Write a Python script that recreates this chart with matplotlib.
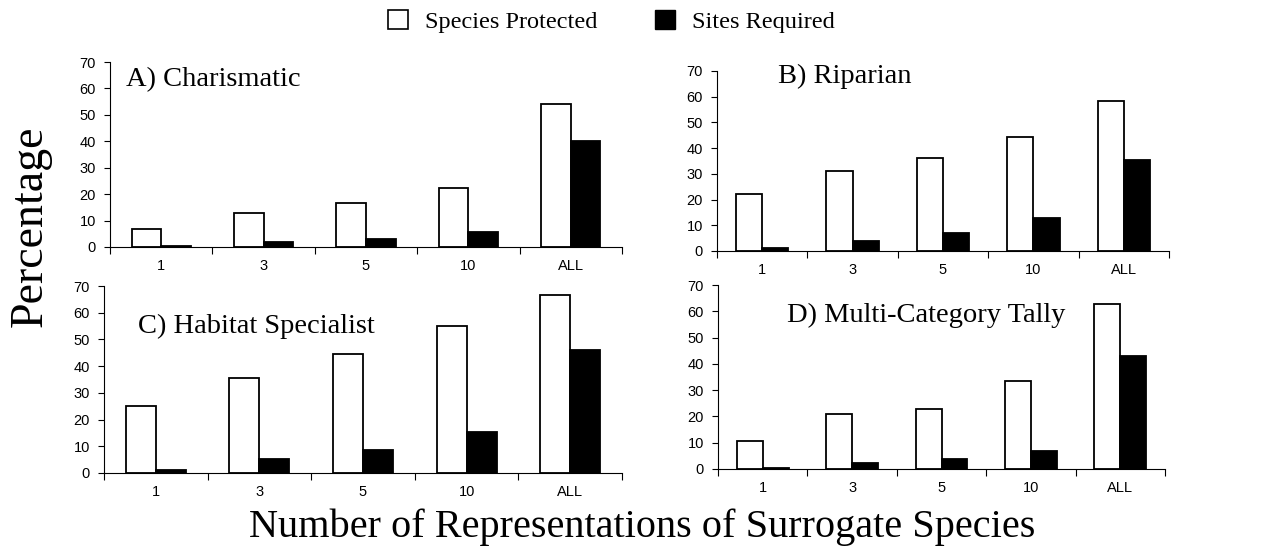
import matplotlib
matplotlib.use("Agg")
import matplotlib.pyplot as plt
from matplotlib.patches import Patch
import numpy as np

# dane (procenty)
categories = ["1", "3", "5", "10", "ALL"]
panel_titles = ["A) Charismatic", "B) Riparian", "C) Habitat Specialist", "D) Multi-Category Tally"]

species_A = [7.0, 12.8, 16.5, 22.2, 54.0]
sites_A = [0.5, 1.9, 3.2, 5.6, 40.2]
species_B = [22.0, 31.0, 36.3, 44.5, 58.2]
sites_B = [1.0, 3.7, 7.0, 12.7, 35.2]
species_C = [25.0, 35.7, 44.7, 55.0, 66.7]
sites_C = [1.3, 5.1, 8.7, 15.5, 46.0]
species_D = [10.6, 20.8, 22.9, 33.6, 62.6]
sites_D = [0.5, 2.2, 3.9, 6.9, 43.0]

yticks = [0, 10, 20, 30, 40, 50, 60, 70]

W, H = 1263, 548
SERIF = "Liberation Serif"
SANS = "Liberation Sans"

# pozycje osi w pikselach: lewo, prawo, gora (70), dol (0)
boxes = [(110, 622, 62, 247), (717, 1169, 71, 251),
         (104, 622, 286, 473), (718, 1165, 285, 469)]
# pozycje tytulow paneli w danych
title_pos = [(-0.34, 63.5), (0.17, 68.0), (-0.17, 55.0), (0.27, 58.5)]

fig = plt.figure(figsize=(W / 100, H / 100), dpi=100)

series = [(species_A, sites_A), (species_B, sites_B),
          (species_C, sites_C), (species_D, sites_D)]

x = np.arange(len(categories))
bw = 0.29
for i, (sp, si) in enumerate(series):
    l, r, t, b = boxes[i]
    ax = fig.add_axes([l / W, 1 - b / H, (r - l) / W, (b - t) / H])
    ax.bar(x - bw / 2, sp, width=bw, color="white", edgecolor="black", linewidth=1.3)
    ax.bar(x + bw / 2, si, width=bw, color="black", edgecolor="black", linewidth=1.3)
    ax.set_xlim(-0.5, len(categories) - 0.5)
    ax.set_ylim(0, 70)
    ax.set_yticks(yticks)
    ax.set_yticklabels([str(v) for v in yticks], fontfamily=SANS, fontsize=10.5)
    ax.set_xticks(x)
    ax.set_xticklabels(categories, fontfamily=SANS, fontsize=10.5)
    ax.tick_params(axis="x", which="major", length=0, pad=9)
    ax.set_xticks(np.arange(len(categories) + 1) - 0.5, minor=True)
    ax.tick_params(axis="x", which="minor", length=5, width=0.8, direction="out")
    ax.tick_params(axis="y", length=4, width=0.8, direction="out", pad=6)
    ax.spines["top"].set_visible(False)
    ax.spines["right"].set_visible(False)
    ax.spines["left"].set_linewidth(0.8)
    ax.spines["bottom"].set_linewidth(0.8)
    tx, ty = title_pos[i]
    ax.text(tx, ty, panel_titles[i], fontfamily=SERIF, fontsize=20.5,
            ha="left", va="center")

handles = [Patch(facecolor="white", edgecolor="black", linewidth=1.2),
           Patch(facecolor="black", edgecolor="black")]
fig.legend(handles, ["Species Protected", "Sites Required"], loc="upper center",
           bbox_to_anchor=(0.484, 1.021), ncol=2, frameon=False,
           prop={"family": SERIF, "size": 17.5}, handlelength=0.8, handleheight=0.8,
           columnspacing=2.4, handletextpad=0.7)

fig.text(30 / W, 1 - 226 / H, "Percentage", rotation=90, ha="center", va="center",
         fontfamily=SERIF, fontsize=33)
fig.text(642 / W, 1 - 527 / H, "Number of Representations of Surrogate Species",
         ha="center", va="center", fontfamily=SERIF, fontsize=29)

fig.savefig("out.png", dpi=100)
